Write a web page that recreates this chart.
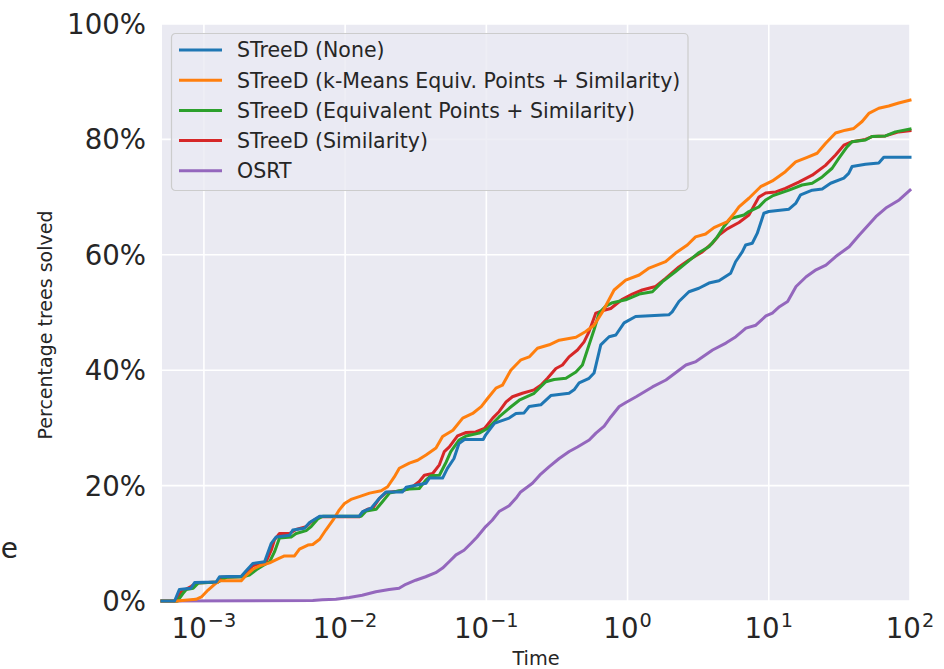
<!DOCTYPE html>
<html>
<head>
<meta charset="utf-8">
<script src="https://cdn.jsdelivr.net/npm/d3@7"></script>
<style>
  body { margin: 0; background: #fff; }
  svg text { font-family: "DejaVu Sans", sans-serif; fill: #262626; }
</style>
</head>
<body>
<div class="chart"></div>
<script>
const width = 944,
  height = 669;
const margin = { top: 24, right: 34, bottom: 68, left: 162 };

const seriesNames = [
  "STreeD (None)",
  "STreeD (k-Means Equiv. Points + Similarity)",
  "STreeD (Equivalent Points + Similarity)",
  "STreeD (Similarity)",
  "OSRT",
];
const colors = ["#1f77b4", "#ff7f0e", "#2ca02c", "#d62728", "#9467bd"];

const xMin = 5.05e-4,
  xMax = 100;
const xTicks = [1e-3, 1e-2, 1e-1, 1, 10, 100];
const xTickExp = ["\u22123", "\u22122", "\u22121", "0", "1", "2"];
const yTicks = [0, 20, 40, 60, 80, 100];

// [time (s), % trees solved]
const streedNone = [
  [5.05e-4, 0], [6.2e-4, 0], [6.7e-4, 2.0], [8.1e-4, 2.2], [8.6e-4, 3.2], [1.22e-3, 3.3],
  [1.29e-3, 4.2], [1.84e-3, 4.3], [2.0e-3, 5.3], [2.22e-3, 6.5], [2.69e-3, 6.8], [3.0e-3, 10.0],
  [3.25e-3, 11.1], [4.04e-3, 11.4], [4.26e-3, 12.3], [5.15e-3, 12.6], [5.6e-3, 13.6], [6.6e-3, 14.7],
  [1.26e-2, 14.7], [1.33e-2, 15.5], [1.53e-2, 16.1], [1.75e-2, 17.8], [1.95e-2, 18.9], [2.55e-2, 18.9],
  [2.7e-2, 19.7], [3.74e-2, 20.4], [3.95e-2, 21.3], [4.9e-2, 21.3], [5.3e-2, 23.0], [5.9e-2, 24.7],
  [6.4e-2, 27.3], [7.0e-2, 28.0], [9.5e-2, 28.0], [9.9e-2, 28.8], [0.114, 30.8], [0.123, 31.1],
  [0.145, 31.7], [0.162, 32.5], [0.185, 32.6], [0.201, 33.7], [0.243, 34.0], [0.286, 35.6],
  [0.385, 36.0], [0.418, 36.6], [0.454, 37.8], [0.534, 38.6], [0.579, 39.5], [0.646, 44.4],
  [0.74, 45.8], [0.826, 46.1], [0.945, 48.2], [1.14, 49.3], [1.96, 49.6], [2.07, 50.1],
  [2.31, 51.9], [2.72, 53.6], [3.2, 54.2], [3.77, 55.1], [4.44, 55.5], [5.37, 56.8],
  [5.82, 58.8], [6.49, 60.5], [6.86, 61.7], [7.64, 62.0], [8.28, 63.7], [9.23, 67.2],
  [10.0, 67.5], [13.9, 67.9], [15.5, 68.9], [16.8, 70.4], [20.3, 71.2], [23.9, 71.4],
  [27.4, 72.4], [34.0, 73.3], [36.8, 74.1], [38.9, 75.3], [48.4, 75.7], [60.1, 75.9],
  [65.2, 76.9], [100, 76.9],
];

const streedKMeans = [
  [5.05e-4, 0], [6.4e-4, 0], [8.8e-4, 0.3], [9.6e-4, 0.7], [1.07e-3, 1.9], [1.19e-3, 2.9],
  [1.29e-3, 3.5], [1.84e-3, 3.5], [2.0e-3, 4.5], [2.22e-3, 5.5], [2.48e-3, 6.1], [2.92e-3, 6.6],
  [3.34e-3, 7.3], [3.72e-3, 7.8], [4.38e-3, 7.8], [4.75e-3, 9.0], [5.45e-3, 9.7], [5.9e-3, 9.8],
  [6.6e-3, 10.7], [7.3e-3, 12.3], [8.2e-3, 14.0], [9.1e-3, 15.8], [9.9e-3, 16.9], [1.1e-2, 17.6],
  [1.26e-2, 18.1], [1.49e-2, 18.7], [1.8e-2, 19.1], [2.0e-2, 19.8], [2.23e-2, 21.5], [2.42e-2, 23.0],
  [2.85e-2, 23.9], [3.26e-2, 24.4], [3.74e-2, 25.3], [4.4e-2, 26.5], [4.9e-2, 28.5], [5.8e-2, 29.6],
  [6.8e-2, 31.7], [8.0e-2, 32.5], [9.2e-2, 33.7], [0.102, 35.1], [0.117, 36.9], [0.13, 37.4],
  [0.149, 40.0], [0.176, 41.8], [0.201, 42.3], [0.23, 43.8], [0.279, 44.4], [0.328, 45.2],
  [0.431, 45.7], [0.506, 46.7], [0.579, 47.8], [0.664, 50.1], [0.803, 53.9], [0.97, 55.6],
  [1.21, 56.5], [1.42, 57.7], [1.86, 58.8], [2.19, 60.3], [2.65, 61.7], [3.03, 63.1],
  [3.57, 63.6], [4.09, 64.7], [5.06, 65.7], [5.66, 67.1], [6.15, 68.3], [7.23, 69.8],
  [8.75, 71.8], [10.6, 72.8], [13.1, 74.4], [15.5, 76.1], [18.7, 76.9], [22.0, 77.6],
  [25.2, 79.3], [29.7, 81.1], [34.9, 81.6], [40.0, 81.9], [45.8, 83.1], [51.1, 84.5],
  [60.1, 85.4], [70.7, 85.8], [83.2, 86.3], [100, 86.8],
];

const streedEquiv = [
  [5.05e-4, 0], [6.5e-4, 0], [7.1e-4, 1.3], [7.5e-4, 2.0], [8.4e-4, 2.2], [9.1e-4, 3.1],
  [1.26e-3, 3.3], [1.44e-3, 4.1], [1.89e-3, 4.2], [2.1e-3, 4.5], [2.35e-3, 5.4], [2.61e-3, 6.1],
  [2.92e-3, 6.8], [3.16e-3, 8.5], [3.43e-3, 10.9], [4.15e-3, 11.1], [4.5e-3, 11.7], [5.3e-3, 12.2],
  [5.75e-3, 12.9], [6.4e-3, 14.2], [6.95e-3, 14.7], [1.3e-2, 14.7], [1.41e-2, 15.6], [1.66e-2, 15.9],
  [1.85e-2, 17.3], [2.06e-2, 18.7], [2.42e-2, 19.1], [2.85e-2, 19.4], [3.35e-2, 19.5], [3.74e-2, 21.0],
  [4.06e-2, 21.7], [4.65e-2, 21.8], [5.2e-2, 24.1], [5.6e-2, 25.9], [6.4e-2, 27.9], [7.2e-2, 28.6],
  [8.9e-2, 29.1], [0.102, 29.9], [0.123, 31.9], [0.145, 33.4], [0.171, 34.8], [0.218, 36.0],
  [0.264, 38.0], [0.302, 38.4], [0.366, 38.6], [0.431, 39.7], [0.479, 40.9], [0.534, 44.4],
  [0.579, 47.0], [0.629, 49.9], [0.701, 51.1], [0.782, 51.7], [0.97, 52.2], [1.21, 53.2],
  [1.5, 53.6], [1.76, 55.3], [2.19, 57.1], [2.58, 58.5], [3.21, 60.4], [3.77, 61.4],
  [4.32, 63.1], [4.81, 64.9], [5.37, 66.3], [6.67, 66.9], [7.23, 67.5], [8.51, 68.3],
  [9.5, 69.5], [10.6, 70.2], [13.9, 71.2], [17.2, 72.1], [20.3, 72.4], [23.9, 73.5],
  [28.1, 75.0], [31.3, 76.7], [35.8, 78.7], [38.9, 79.6], [48.4, 79.9], [53.8, 80.5],
  [67.0, 80.6], [78.8, 81.3], [100, 81.8],
];

const streedSimilarity = [
  [5.05e-4, 0], [6.4e-4, 0], [6.9e-4, 1.6], [8.1e-4, 2.5], [8.8e-4, 3.1], [1.26e-3, 3.3],
  [1.33e-3, 4.1], [1.84e-3, 4.2], [2.0e-3, 4.9], [2.22e-3, 6.1], [2.48e-3, 6.5], [2.76e-3, 6.8],
  [3.0e-3, 8.8], [3.16e-3, 10.6], [3.43e-3, 11.7], [4.04e-3, 11.7], [4.5e-3, 12.4], [5.3e-3, 12.9],
  [5.75e-3, 13.7], [6.6e-3, 14.6], [1.26e-2, 14.6], [1.33e-2, 15.4], [1.44e-2, 15.9], [1.57e-2, 16.1],
  [1.75e-2, 17.8], [1.95e-2, 18.8], [2.55e-2, 19.1], [3.0e-2, 19.8], [3.35e-2, 20.7], [3.64e-2, 21.8],
  [4.17e-2, 22.1], [4.65e-2, 23.6], [5.04e-2, 25.9], [5.47e-2, 26.7], [6.25e-2, 28.6], [7.2e-2, 29.2],
  [8.4e-2, 29.3], [9.7e-2, 29.9], [0.111, 31.7], [0.123, 32.8], [0.138, 34.5], [0.153, 35.4],
  [0.18, 36.0], [0.218, 36.6], [0.243, 37.4], [0.271, 38.6], [0.311, 40.3], [0.346, 40.9],
  [0.385, 42.3], [0.442, 43.5], [0.492, 44.9], [0.534, 46.7], [0.596, 49.9], [0.682, 50.4],
  [0.76, 50.7], [0.918, 52.3], [1.08, 53.2], [1.27, 53.9], [1.58, 54.5], [1.86, 55.9],
  [2.31, 57.9], [2.72, 59.1], [3.38, 60.5], [3.98, 62.0], [4.44, 63.4], [5.08, 64.5],
  [6.15, 65.6], [7.23, 66.9], [8.51, 70.0], [9.5, 70.7], [11.2, 70.9], [13.1, 71.5],
  [16.3, 72.6], [20.3, 73.8], [25.2, 75.5], [29.7, 77.3], [34.0, 79.0], [38.9, 79.6],
  [48.4, 80.0], [53.8, 80.5], [67.0, 80.6], [83.2, 81.3], [100, 81.5],
];

const osrt = [
  [5.05e-4, 0], [5.9e-3, 0.1], [6.9e-3, 0.2], [8.6e-3, 0.3], [1.07e-2, 0.6], [1.32e-2, 1.0],
  [1.65e-2, 1.6], [2.05e-2, 2.0], [2.41e-2, 2.2], [2.69e-2, 2.9], [3.16e-2, 3.6], [3.72e-2, 4.2],
  [4.38e-2, 4.9], [4.9e-2, 5.7], [5.45e-2, 6.8], [6.1e-2, 8.0], [6.95e-2, 8.8], [7.8e-2, 10.0],
  [8.6e-2, 11.1], [9.9e-2, 12.9], [0.11, 14.0], [0.123, 15.5], [0.145, 16.5], [0.162, 17.8],
  [0.175, 18.9], [0.212, 20.4], [0.243, 22.0], [0.279, 23.3], [0.328, 24.7], [0.386, 25.9],
  [0.442, 26.7], [0.535, 27.9], [0.597, 29.1], [0.683, 30.3], [0.761, 31.9], [0.873, 33.7],
  [0.973, 34.4], [1.15, 35.4], [1.5, 37.1], [1.87, 38.3], [2.59, 40.9], [3.05, 41.5],
  [4.0, 43.5], [4.97, 44.7], [5.85, 45.8], [6.89, 47.3], [8.1, 47.8], [9.55, 49.4],
  [10.6, 49.9], [11.9, 51.0], [13.6, 51.9], [15.6, 54.5], [18.4, 56.2], [21.6, 57.4],
  [25.4, 58.2], [29.8, 59.7], [37.1, 61.4], [43.6, 63.4], [57.3, 66.6], [67.4, 68.1],
  [83.8, 69.5], [100, 71.2],
];

const seriesData = [streedNone, streedKMeans, streedEquiv, streedSimilarity, osrt];
// drawing order (last on top)
const drawOrder = [4, 3, 2, 1, 0];

const svg = d3
  .select(".chart")
  .append("svg")
  .attr("width", width)
  .attr("height", height);

const x = d3
  .scaleLog()
  .domain([xMin, xMax])
  .range([margin.left, width - margin.right]);
const y = d3
  .scaleLinear()
  .domain([0, 100])
  .range([height - margin.bottom, margin.top]);

// plot background
svg
  .append("rect")
  .attr("x", margin.left)
  .attr("y", margin.top)
  .attr("width", x.range()[1] - x.range()[0])
  .attr("height", y.range()[0] - y.range()[1])
  .attr("fill", "#eaeaf2");

// grid
const grid = svg.append("g").attr("stroke", "#fff").attr("stroke-width", 1.6);
grid
  .selectAll(".gx")
  .data(xTicks)
  .enter()
  .append("line")
  .attr("x1", (d) => x(d))
  .attr("x2", (d) => x(d))
  .attr("y1", y.range()[1])
  .attr("y2", y.range()[0]);
grid
  .selectAll(".gy")
  .data(yTicks)
  .enter()
  .append("line")
  .attr("x1", x.range()[0])
  .attr("x2", x.range()[1])
  .attr("y1", (d) => y(d))
  .attr("y2", (d) => y(d));

// y tick labels
svg
  .append("g")
  .selectAll("text")
  .data(yTicks)
  .enter()
  .append("text")
  .attr("x", margin.left - 16)
  .attr("y", (d) => y(d))
  .attr("dy", "0.36em")
  .attr("text-anchor", "end")
  .style("font-size", "27.6px")
  .text((d) => d + "%");

// x tick labels: 10^n
const xLabels = svg
  .append("g")
  .selectAll("text")
  .data(xTicks)
  .enter()
  .append("text")
  .attr("x", (d) => x(d))
  .attr("y", y.range()[0] + 36.5)
  .attr("text-anchor", "middle")
  .style("font-size", "27.6px");
xLabels.append("tspan").text("10");
xLabels
  .append("tspan")
  .attr("dy", -10.6)
  .attr("dx", 1)
  .style("font-size", "19.3px")
  .text((d, i) => xTickExp[i]);

// axis titles
svg
  .append("text")
  .attr("x", (x.range()[0] + x.range()[1]) / 2)
  .attr("y", 665)
  .attr("text-anchor", "middle")
  .style("font-size", "19.3px")
  .text("Time");

svg
  .append("text")
  .attr("transform", "translate(52,325) rotate(-90)")
  .attr("text-anchor", "middle")
  .style("font-size", "19px")
  .text("Percentage trees solved");

// clipped label from neighbouring panel
svg
  .append("text")
  .attr("x", 18)
  .attr("y", 558)
  .attr("text-anchor", "end")
  .style("font-size", "28px")
  .text("e");

// lines
const line = d3
  .line()
  .x((d) => x(d[0]))
  .y((d) => y(d[1]));

const lines = svg.append("g");
drawOrder.forEach((i) => {
  lines
    .append("path")
    .datum(seriesData[i])
    .attr("d", line)
    .attr("fill", "none")
    .attr("stroke", colors[i])
    .attr("stroke-width", 3)
    .attr("stroke-linejoin", "round")
    .attr("stroke-linecap", "square");
});

// legend
const legend = svg.append("g").attr("transform", "translate(171.5,33.5)");
legend
  .append("rect")
  .attr("width", 516.5)
  .attr("height", 157)
  .attr("rx", 4)
  .attr("fill", "#eaeaf2")
  .attr("fill-opacity", 0.8)
  .attr("stroke", "#cccccc")
  .attr("stroke-width", 1.2);

const entry = legend
  .selectAll(".entry")
  .data(seriesNames)
  .enter()
  .append("g")
  .attr("transform", (d, i) => "translate(0," + (16.5 + i * 30.2) + ")");
entry
  .append("line")
  .attr("x1", 7.5)
  .attr("x2", 50.5)
  .attr("stroke", (d, i) => colors[i])
  .attr("stroke-width", 3);
entry
  .append("text")
  .attr("x", 65.5)
  .attr("dy", "0.36em")
  .style("font-size", "20.5px")
  .text((d) => d);
</script>
</body>
</html>
